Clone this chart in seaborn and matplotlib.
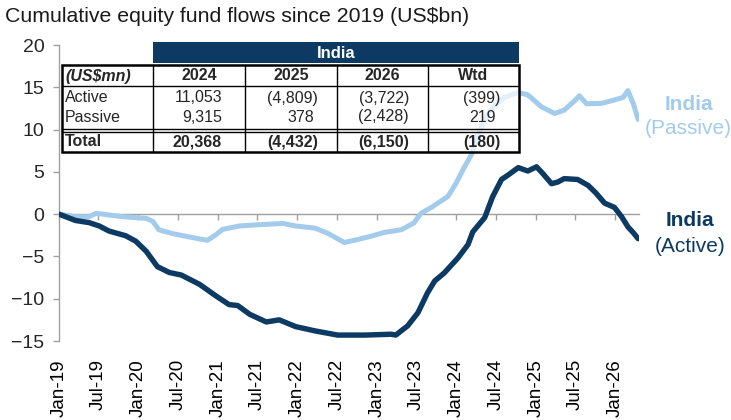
import pandas as pd
import matplotlib
matplotlib.use("Agg")
import matplotlib.pyplot as plt
import matplotlib.dates as mdates
from matplotlib.patches import Rectangle
import seaborn as sns

# Cumulative flows, US$bn
ACTIVE_DATES = [
    "2019-01-01", "2019-03-18", "2019-05-19", "2019-07-05", "2019-08-19", "2019-11-03",
    "2019-12-20", "2020-02-06", "2020-03-28", "2020-05-22", "2020-07-16", "2020-10-08",
    "2020-12-24", "2021-02-21", "2021-04-01", "2021-05-27", "2021-08-11", "2021-10-09",
    "2021-12-24", "2022-03-22", "2022-07-05", "2022-11-07", "2023-03-07", "2023-03-29",
    "2023-05-23", "2023-07-09", "2023-08-22", "2023-09-24", "2023-11-07", "2024-01-08",
    "2024-02-24", "2024-03-17", "2024-05-11", "2024-06-16", "2024-07-27", "2024-08-25",
    "2024-10-12", "2024-11-25", "2025-01-04", "2025-02-02", "2025-03-14", "2025-04-12",
    "2025-05-11", "2025-07-12", "2025-08-29", "2025-10-04", "2025-11-13", "2025-12-28",
    "2026-01-30", "2026-02-28", "2026-03-25", "2026-04-16",
]
ACTIVE_VALUES = [
    0.0, -0.75, -1.0, -1.4, -2.0, -2.55,
    -3.2, -4.4, -6.2, -6.9, -7.2, -8.3,
    -9.7, -10.7, -10.8, -11.85, -12.75, -12.5,
    -13.3, -13.8, -14.3, -14.3, -14.2, -14.3,
    -13.2, -11.65, -9.3, -7.9, -6.95, -5.2,
    -3.6, -2.1, -0.4, 2.05, 4.1, 4.6,
    5.5, 5.1, 5.6, 4.8, 3.6, 3.8,
    4.2, 4.1, 3.4, 2.5, 1.3, 0.8,
    -0.3, -1.5, -2.2, -2.9,
]

PASSIVE_DATES = [
    "2019-01-01", "2019-03-18", "2019-05-19", "2019-06-21", "2019-08-19", "2019-10-19",
    "2020-02-06", "2020-03-07", "2020-04-04", "2020-06-06", "2020-08-22", "2020-11-13",
    "2020-12-24", "2021-01-22", "2021-04-08", "2021-07-08", "2021-10-27", "2021-12-24",
    "2022-03-22", "2022-05-19", "2022-08-04", "2022-10-05", "2022-12-07", "2023-02-06",
    "2023-04-23", "2023-06-20", "2023-07-23", "2023-09-09", "2023-11-24", "2024-01-01",
    "2024-02-06", "2024-03-10", "2024-03-28", "2024-04-20", "2024-05-22", "2024-06-24",
    "2024-08-08", "2024-10-12", "2024-11-25", "2025-01-26", "2025-03-28", "2025-05-11",
    "2025-06-28", "2025-07-20", "2025-08-22", "2025-10-30", "2025-12-28", "2026-02-06",
    "2026-02-28", "2026-03-25", "2026-04-16",
]
PASSIVE_VALUES = [
    0.0, -0.3, -0.3, 0.1, -0.1, -0.3,
    -0.5, -0.85, -1.85, -2.3, -2.7, -3.1,
    -2.4, -1.8, -1.4, -1.25, -1.1, -1.4,
    -1.65, -2.25, -3.35, -3.0, -2.6, -2.15,
    -1.85, -1.05, 0.1, 0.8, 2.1, 3.7,
    5.5, 7.0, 8.5, 10.0, 11.8, 12.8,
    13.8, 14.4, 14.1, 12.7, 11.9, 12.3,
    13.4, 14.0, 13.05, 13.1, 13.5, 13.8,
    14.6, 13.05, 11.2,
]

# inset table (US$mn)
TABLE_HEADER = "India"
TABLE_COLS = ["2024", "2025", "2026", "Wtd"]
TABLE_ROWS = ["Active", "Passive"]
ACTIVE_ROW = ["11,053", "(4,809)", "(3,722)", "(399)"]
PASSIVE_ROW = ["9,315", "378", "(2,428)", "219"]
TOTAL_ROW = ["20,368", "(4,432)", "(6,150)", "(180)"]

NAVY = "#0c3a62"
LIGHT = "#a2cbec"
GREY = "#a0a0a0"

W, H = 731, 420


def build_frame():
    act = pd.DataFrame({"date": pd.to_datetime(ACTIVE_DATES), "value": ACTIVE_VALUES})
    pas = pd.DataFrame({"date": pd.to_datetime(PASSIVE_DATES), "value": PASSIVE_VALUES})
    return act, pas


def draw_table(ov):
    cols = [62, 153, 245, 337, 428, 519]
    top, head_bot, dbl1, dbl2, bot = 65, 86, 129, 132, 152

    ov.add_patch(Rectangle((cols[1], 42), cols[-1] - cols[1], 21, fc=NAVY, ec="none"))
    ov.text((cols[1] + cols[-1]) / 2, 53, TABLE_HEADER, color="white", fontsize=12,
            fontweight="bold", ha="center", va="center")

    ov.add_patch(Rectangle((cols[0], top), cols[-1] - cols[0], bot - top,
                           fc=(1, 1, 1, 0.7), ec="black", lw=1.8))
    ov.plot([cols[0], cols[-1]], [head_bot, head_bot], color="black", lw=1)
    ov.plot([cols[0], cols[-1]], [dbl1, dbl1], color="black", lw=1)
    ov.plot([cols[0], cols[-1]], [dbl2, dbl2], color="black", lw=1)
    for x in cols[1:-1]:
        ov.plot([x, x], [top, bot], color="black", lw=1)

    ov.text(65, 76, "(US$mn)", fontsize=11.5, fontweight="bold", fontstyle="italic",
            ha="left", va="center")
    for i, lab in enumerate(TABLE_COLS):
        ov.text((cols[i + 1] + cols[i + 2]) / 2, 76, lab, fontsize=11.5,
                fontweight="bold", ha="center", va="center")

    rows = [(TABLE_ROWS[0], ACTIVE_ROW, 98, "normal"),
            (TABLE_ROWS[1], PASSIVE_ROW, 117, "normal"),
            ("Total", TOTAL_ROW, 142, "bold")]
    for name, vals, y, wt in rows:
        ov.text(65, y, name, fontsize=11.5, fontweight=wt, ha="left", va="center")
        for i, v in enumerate(vals):
            right = cols[i + 2] - (19 if v.startswith("(") else 23)
            ov.text(right, y, v, fontsize=11.5, fontweight=wt, ha="right", va="center")


def plot():
    sns.set_theme(style="white")
    plt.rcParams["font.family"] = ["Liberation Sans", "DejaVu Sans"]

    act, pas = build_frame()

    fig = plt.figure(figsize=(W / 100, H / 100), dpi=100)
    ax = fig.add_axes([59 / W, (H - 341) / H, 580 / W, (341 - 45) / H])

    sns.lineplot(data=pas, x="date", y="value", color=LIGHT, lw=3.6, ax=ax, zorder=3)
    sns.lineplot(data=act, x="date", y="value", color=NAVY, lw=3.9, ax=ax, zorder=3)

    ymin, ymax = -15, 20
    ax.set_ylim(ymin, ymax)
    ax.set_yticks(range(ymin, ymax + 1, 5))
    x0, x1 = pd.Timestamp("2019-01-01"), pd.Timestamp("2026-04-20")
    ax.set_xlim(x0, x1)
    ax.set_xlabel("")
    ax.set_ylabel("")

    ticks = pd.date_range("2019-01-01", "2026-01-01", freq="6MS")

    # main x axis = the zero line with short tick marks, no labels
    ax.set_xticks(ticks)
    ax.spines["bottom"].set_position(("data", 0))
    ax.spines["bottom"].set_color(GREY)
    ax.spines["bottom"].set_linewidth(1)
    ax.tick_params(axis="y", direction="out", length=4.5, width=1, color=GREY,
                   labelsize=14, pad=6, left=True)
    for s in ["top", "right"]:
        ax.spines[s].set_visible(False)
    ax.spines["left"].set_color(GREY)
    ax.spines["left"].set_linewidth(1)

    # date labels along the bottom edge
    lab = ax.twiny()
    lab.set_xlim(mdates.date2num(x0), mdates.date2num(x1))
    lab.set_xticks(mdates.date2num(ticks))
    lab.xaxis.set_major_formatter(mdates.DateFormatter("%b-%y"))
    lab.xaxis.set_ticks_position("bottom")
    lab.tick_params(axis="x", length=0, pad=13, labelsize=13.5, rotation=90,
                    colors="black", labelbottom=True, labeltop=False)
    for s in lab.spines.values():
        s.set_visible(False)
    ax.set_zorder(lab.get_zorder() + 1)
    ax.patch.set_visible(False)
    # twiny resets the main axis ticks, so style them afterwards
    ax.tick_params(axis="x", direction="out", length=4.5, width=1, color=GREY,
                   bottom=True, top=False, labelbottom=False, labeltop=False)

    fig.text(5 / W, 1 - 17 / H, "Cumulative equity fund flows since 2019 (US$bn)",
             fontsize=15.3, ha="left", va="center", color="#1a1a1a")

    # pixel overlay for the table and end labels
    ov = fig.add_axes([0, 0, 1, 1], zorder=5)
    ov.set_xlim(0, W)
    ov.set_ylim(H, 0)
    ov.axis("off")
    ov.patch.set_alpha(0)

    draw_table(ov)

    ov.text(689, 104, "India", color=LIGHT, fontsize=15, fontweight="bold", ha="center", va="center")
    ov.text(688, 129, "(Passive)", color=LIGHT, fontsize=15, ha="center", va="center")
    ov.text(690, 220, "India", color=NAVY, fontsize=15, fontweight="bold", ha="center", va="center")
    ov.text(690, 246, "(Active)", color=NAVY, fontsize=15, ha="center", va="center")

    fig.savefig("out.png", dpi=100)
    plt.close(fig)


if __name__ == "__main__":
    plot()
